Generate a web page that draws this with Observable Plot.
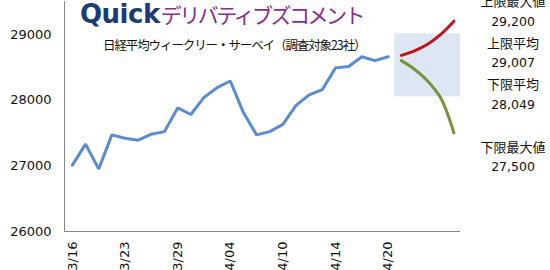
<!DOCTYPE html>
<html><head><meta charset="utf-8">
<script src="https://cdn.jsdelivr.net/npm/d3@7"></script>
<script src="https://cdn.jsdelivr.net/npm/@observablehq/plot@0.6"></script>
<style>
body{margin:0;background:#fff;}
#wrap{position:relative;width:550px;height:270px;overflow:hidden;background:#fff;}
#chart{position:absolute;left:0;top:0;}
#title{position:absolute;left:80px;top:0px;white-space:nowrap;line-height:28px;}
#title .q{font-family:"DejaVu Sans";font-weight:bold;font-size:26px;color:#1d3a72;letter-spacing:-0.5px;}
#title .c{font-family:"Noto Sans CJK JP";font-size:21px;color:#8a2b8f;letter-spacing:-2.5px;margin-left:1px;}
#sub{position:absolute;left:103px;top:37px;white-space:nowrap;font-family:"Noto Sans CJK JP";font-size:12.5px;letter-spacing:-1.1px;line-height:16px;color:#111;}
#annot{position:absolute;left:463px;top:-9px;width:100px;text-align:center;line-height:20.8px;color:#111;}
#annot .l{font-family:"Noto Sans CJK JP";font-size:13px;}
#annot .v{font-family:"DejaVu Sans";font-size:12.5px;}
</style></head><body>
<div id="wrap"><div id="chart"></div>
<div id="title"><span class="q">Quick</span><span class="c">デリバティブズコメント</span></div>
<div id="sub">日経平均ウィークリー・サーベイ（調査対象23社）</div>
<div id="annot"></div>
</div>
<script>
const dates = ["3/16","3/17","3/20","3/22","3/23","3/24","3/27","3/28","3/29","3/30","3/31","4/03","4/04","4/05","4/06","4/07","4/10","4/11","4/12","4/13","4/14","4/17","4/18","4/19","4/20"];
const nikkei = [27010,27330,26950,27470,27420,27390,27480,27520,27880,27780,28040,28190,28290,27810,27470,27520,27630,27920,28080,28160,28490,28510,28660,28600,28660];
const forecastDays = ["4/21","4/24","4/25","4/26","4/27"];
const upperPath = [28680,28750,28850,29000,29200];
const lowerPath = [28600,28470,28290,28030,27500];
const tickLabels = ["3/16","3/23","3/29","4/04","4/10","4/14","4/20"];
const yTicks = [26000,27000,28000,29000];
const annotLabels = ["上限最大値","上限平均","下限平均","下限最大値"];
const annotValues = [29200,29007,28049,27500];

const allDates = dates.concat(forecastDays);
const fStart = dates.length;
const fEnd = allDates.length - 1;
const xDomain = [-0.6, fEnd + 0.5];
const band = [{x1: fStart - 0.5, x2: fEnd + 0.5, y1: annotValues[2], y2: annotValues[1]}];
const tickIdx = tickLabels.map(t => allDates.indexOf(t));

const plot = Plot.plot({
  width: 550, height: 270,
  marginLeft: 64, marginRight: 90, marginTop: 1, marginBottom: 39,
  x: {type: "linear", domain: xDomain},
  y: {domain: [26000, 29500]},
  style: {fontFamily: "DejaVu Sans", fontSize: "13px", color: "#111", background: "transparent"},
  marks: [
    Plot.rect(band, {x1: "x1", x2: "x2", y1: "y1", y2: "y2", fill: "#dde7f4"}),
    Plot.ruleX([xDomain[0]], {stroke: "#868686"}),
    Plot.ruleY([26000], {stroke: "#868686"}),
    Plot.axisY({ticks: yTicks, tickSize: 0, tickPadding: 13, tickFormat: d3.format("d"), label: null, style: {letterSpacing: "0.4px"}}),
    Plot.axisX({ticks: tickIdx, tickFormat: i => allDates[i], tickRotate: -90, tickSize: 0, tickPadding: 10, label: null}),
    Plot.line(nikkei, {x: (d, i) => i, y: d => d, stroke: "#5b8bd0", strokeWidth: 3, strokeLinejoin: "miter"}),
    Plot.line(upperPath, {x: (d, i) => fStart + i, y: d => d, stroke: "#c0141c", strokeWidth: 3, curve: "catmull-rom"}),
    Plot.line(lowerPath, {x: (d, i) => fStart + i, y: d => d, stroke: "#77933c", strokeWidth: 3, curve: "catmull-rom"})
  ]
});
document.getElementById("chart").appendChild(plot);

const fmt = d3.format(",");
const a = document.getElementById("annot");
annotLabels.forEach((l, i) => {
  if (i === 3) { const b = document.createElement("div"); b.innerHTML = "&nbsp;"; a.appendChild(b); }
  const dl = document.createElement("div"); dl.className = "l"; dl.textContent = l; a.appendChild(dl);
  const dv = document.createElement("div"); dv.className = "v"; dv.textContent = fmt(annotValues[i]); a.appendChild(dv);
});
</script>
</body></html>
